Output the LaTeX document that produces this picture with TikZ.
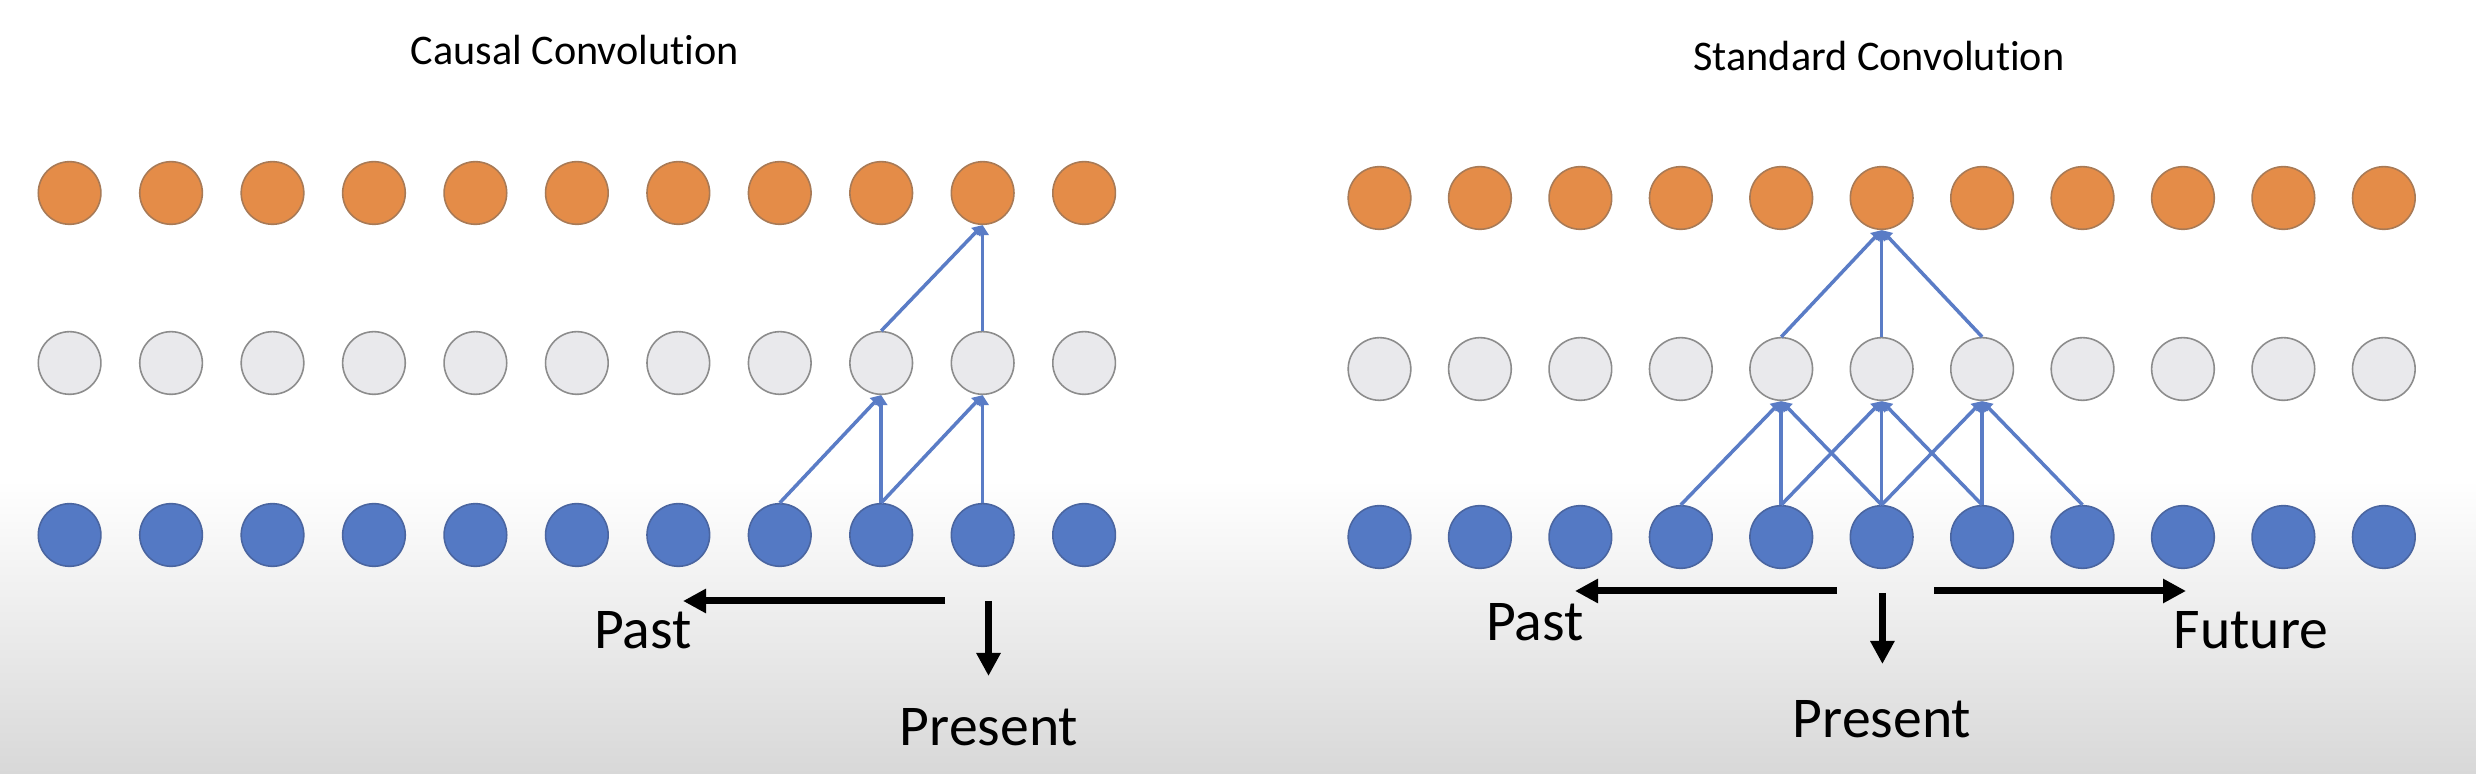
\documentclass[tikz,border=0pt]{standalone}
\usepackage{fontspec}
\setmainfont[Ligatures=NoCommon, Contextuals=NoAlternate]{Carlito}
\usepackage{tikz}
\usetikzlibrary{arrows.meta, positioning}

\definecolor{outfill}{HTML}{E48C48}
\definecolor{outline}{HTML}{A87A56}
\definecolor{hidfill}{HTML}{E9E9EC}
\definecolor{hidline}{HTML}{8C8C8C}
\definecolor{infill}{HTML}{5479C4}
\definecolor{inline}{HTML}{4A65A0}
\definecolor{connblue}{HTML}{5A7CC6}
\definecolor{bggray}{HTML}{D8D8D8}

\tikzset{
  dot/.style={circle, minimum size=0.626cm, inner sep=0, line width=0.45pt},
  outnode/.style={dot, fill=outfill, draw=outline},
  hidnode/.style={dot, fill=hidfill, draw=hidline},
  innode/.style={dot, fill=infill, draw=inline},
  conn/.style={connblue, line width=0.035cm, -{Triangle[length=0.1cm, width=0.12cm]}},
  timearrow/.style={black, line width=0.07cm, -{Triangle[length=0.23cm, width=0.23cm]}},
  title/.style={anchor=base, font=\fontsize{12}{14}\selectfont},
  lbl/.style={anchor=base, font=\fontsize{16.4}{19}\selectfont}
}

\begin{document}
\begin{tikzpicture}[x=0.01cm, y=-0.01cm]
\useasboundingbox (0,0) rectangle (2476,774);
\fill[white] (0,0) rectangle (2476,480);
\shade[top color=white, bottom color=bggray] (0,480) rectangle (2476,774);

% causal convolution
\node[title] (ctitle) at (575,65) {Causal Convolution};
\foreach \i in {0,...,10} {
  \node[outnode] (co\i) at (69.6+101.45*\i,193) {};
  \node[hidnode] (cg\i) at (69.6+101.45*\i,363) {};
  \node[innode] (cb\i) at (69.6+101.45*\i,535) {};
}
\draw[conn] (cb7.north) -- (cg8.south);
\draw[conn] (cb8.north) -- (cg8.south);
\draw[conn] (cb8.north) -- (cg9.south);
\draw[conn] (cb9.north) -- (cg9.south);
\draw[conn] (cg8.north) -- (co9.south);
\draw[conn] (cg9.north) -- (co9.south);

\coordinate (cpast0) at (945,601);
\coordinate (cpast1) at (683,601);
\coordinate (cnow0) at (988.5,601);
\coordinate (cnow1) at (988.5,676);
\draw[timearrow] (cpast0) -- (cpast1);
\draw[timearrow] (cnow0) -- (cnow1);
\node[lbl] (cpast) at (643,649) {Past};
\node[lbl] (cpres) at (989,746) {Present};

% standard convolution
\node[title] (stitle) at (1879,70.5) {Standard Convolution};
\foreach \i in {0,...,10} {
  \node[outnode] (so\i) at (1379.5+100.43*\i,198) {};
  \node[hidnode] (sg\i) at (1379.5+100.43*\i,369) {};
  \node[innode] (sb\i) at (1379.5+100.43*\i,537) {};
}
\foreach \g in {4,5,6} {
  \draw[conn] (sg\g.north) -- (so5.south);
}
\foreach \g/\a/\b/\c in {4/3/4/5, 5/4/5/6, 6/5/6/7} {
  \draw[conn] (sb\a.north) -- (sg\g.south);
  \draw[conn] (sb\b.north) -- (sg\g.south);
  \draw[conn] (sb\c.north) -- (sg\g.south);
}

\coordinate (spast0) at (1837,591);
\coordinate (spast1) at (1575,591);
\coordinate (sfut0) at (1934,591);
\coordinate (sfut1) at (2186,591);
\coordinate (snow0) at (1882.4,593);
\coordinate (snow1) at (1882.4,664);
\draw[timearrow] (spast0) -- (spast1);
\draw[timearrow] (sfut0) -- (sfut1);
\draw[timearrow] (snow0) -- (snow1);
\node[lbl] (spast) at (1535,641) {Past};
\node[lbl] (sfut) at (2251,649) {Future};
\node[lbl] (spres) at (1882,738) {Present};
\end{tikzpicture}
\end{document}
